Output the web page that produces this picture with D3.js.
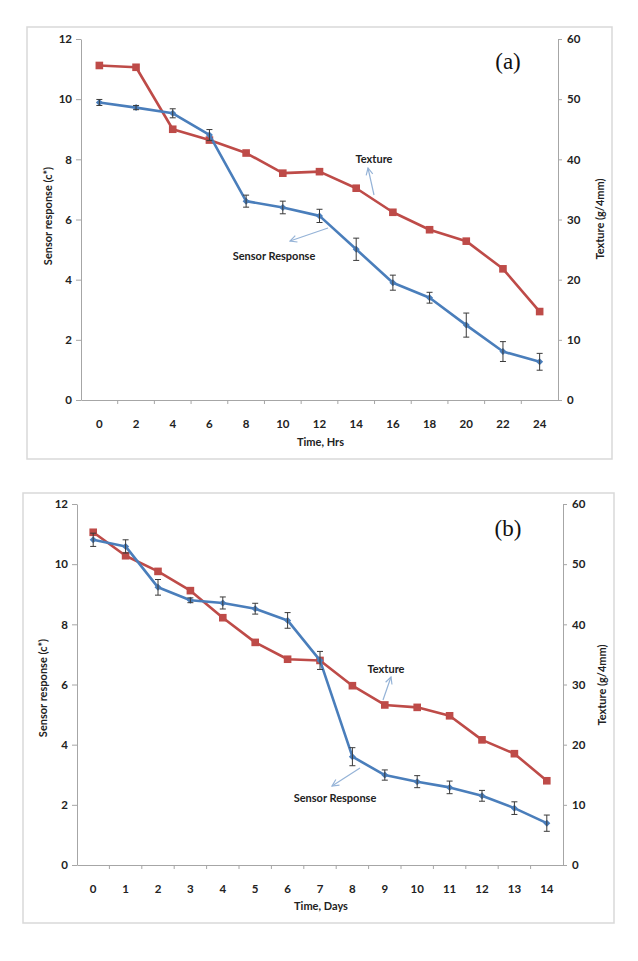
<!DOCTYPE html>
<html>
<head>
<meta charset="utf-8">
<script src="https://cdn.jsdelivr.net/npm/d3@7/dist/d3.min.js"></script>
<style>
  html, body { margin: 0; padding: 0; background: #fff; }
  text { font-family: Lato, "Open Sans", "Liberation Sans", sans-serif; }
  text.tag { font-family: "Liberation Serif", "DejaVu Serif", serif; font-weight: normal; }
</style>
</head>
<body>
<svg id="chart" width="638" height="961"></svg>
<script>
// ---------- Data ----------
// Panel (a): time in hours
const hoursA = ["0","2","4","6","8","10","12","14","16","18","20","22","24"];
const sensorA = [9.89, 9.72, 9.53, 8.81, 6.61, 6.40, 6.12, 5.01, 3.90, 3.40, 2.49, 1.61, 1.27];
const sensorErrA = [0.10, 0.07, 0.15, 0.18, 0.20, 0.21, 0.22, 0.37, 0.25, 0.18, 0.40, 0.33, 0.28];
const textureA = [55.6, 55.3, 45.0, 43.2, 41.05, 37.7, 37.95, 35.2, 31.2, 28.3, 26.4, 21.8, 14.7];

// Panel (b): time in days
const daysB = ["0","1","2","3","4","5","6","7","8","9","10","11","12","13","14"];
const sensorB = [10.81, 10.59, 9.23, 8.80, 8.71, 8.52, 8.13, 6.80, 3.60, 2.99, 2.77, 2.58, 2.30, 1.89, 1.39];
const sensorErrB = [0.22, 0.22, 0.26, 0.08, 0.20, 0.18, 0.26, 0.30, 0.30, 0.17, 0.20, 0.21, 0.18, 0.21, 0.27];
const textureB = [55.3, 51.4, 48.8, 45.6, 41.1, 37.0, 34.2, 34.0, 29.8, 26.6, 26.2, 24.8, 20.8, 18.5, 14.0];

const leftTicks = [0, 2, 4, 6, 8, 10, 12];
const rightTicks = [0, 10, 20, 30, 40, 50, 60];

// ---------- Layout ----------
const panels = [
  { cats: hoursA, sensor: sensorA, err: sensorErrA, texture: textureA,
    frame: [27, 27, 612, 459], plot: { x0: 81, x1: 558, yTop: 39, yBot: 400 },
    xTitle: "Time, Hrs", tag: "(a)", tagPos: [508, 69],
    leftTitlePos: [47, 216], rightTitlePos: [599, 219], xTitleY: 446, xLabelY: 424,
    texLbl: [374, 163], texArrow: [[374, 195], [368, 168]],
    senLbl: [274, 260], senArrow: [[328, 228], [290, 241]] },
  { cats: daysB, sensor: sensorB, err: sensorErrB, texture: textureB,
    frame: [23, 493, 614, 923], plot: { x0: 77, x1: 563, yTop: 504, yBot: 865 },
    xTitle: "Time, Days", tag: "(b)", tagPos: [508, 536],
    leftTitlePos: [42, 688], rightTitlePos: [601, 685], xTitleY: 910, xLabelY: 889,
    texLbl: [386, 673], texArrow: [[383, 700], [391, 677]],
    senLbl: [335, 802], senArrow: [[360, 768], [332, 786]] }
];

const BLUE = "#4a7ebb", RED = "#be4b48", AXIS = "#a6a6a6", FRAME = "#d9d9d9", ANNO = "#95b3d7";

const svg = d3.select("#chart");
svg.append("rect").attr("width", 638).attr("height", 961).attr("fill", "#fff");

const defs = svg.append("defs");
defs.append("marker").attr("id", "arr").attr("viewBox", "0 0 10 10")
  .attr("refX", 9).attr("refY", 5).attr("markerWidth", 7).attr("markerHeight", 7)
  .attr("orient", "auto")
  .append("path").attr("d", "M1,1 L9,5 L1,9").attr("fill", "none")
  .attr("stroke", ANNO).attr("stroke-width", 1.4);

panels.forEach(p => {
  const g = svg.append("g");
  const [fx0, fy0, fx1, fy1] = p.frame;
  g.append("rect").attr("x", fx0).attr("y", fy0).attr("width", fx1 - fx0).attr("height", fy1 - fy0)
    .attr("fill", "#fff").attr("stroke", FRAME).attr("stroke-width", 1.5);

  const x = d3.scaleBand().domain(p.cats).range([p.plot.x0, p.plot.x1]);
  const yL = d3.scaleLinear().domain([0, 12]).range([p.plot.yBot, p.plot.yTop]);
  const yR = d3.scaleLinear().domain([0, 60]).range([p.plot.yBot, p.plot.yTop]);
  const cx = c => x(c) + x.bandwidth() / 2;

  // Left axis
  const la = g.append("g").attr("transform", `translate(${p.plot.x0},0)`)
    .call(d3.axisLeft(yL).tickValues(leftTicks).tickSize(5).tickSizeOuter(0).tickPadding(4));
  // Right axis
  const ra = g.append("g").attr("transform", `translate(${p.plot.x1},0)`)
    .call(d3.axisRight(yR).tickValues(rightTicks).tickSize(4).tickSizeOuter(0).tickPadding(5));
  // Bottom axis (labels centered in bands)
  const ba = g.append("g").attr("transform", `translate(0,${p.plot.yBot})`)
    .call(d3.axisBottom(x).tickSize(0).tickSizeOuter(0).tickPadding(p.xLabelY - p.plot.yBot - 4));
  ba.selectAll(".tick line").remove();
  // band boundary ticks
  const bounds = p.cats.slice(1).map(c => x(c));
  g.append("g").selectAll("line").data(bounds).join("line")
    .attr("x1", d => d).attr("x2", d => d)
    .attr("y1", p.plot.yBot).attr("y2", p.plot.yBot + 4)
    .attr("stroke", AXIS).attr("stroke-width", 1);

  [la, ra, ba].forEach(a => {
    a.select(".domain").attr("stroke", AXIS).attr("stroke-width", 1);
    a.selectAll(".tick line").attr("stroke", AXIS);
    a.selectAll("text").style("font-family", "Lato, 'Open Sans', sans-serif")
      .attr("font-weight", "bold").attr("font-size", 11.5).attr("fill", "#222");
  });

  // Axis titles
  g.append("text").attr("transform", `translate(${p.leftTitlePos[0]},${p.leftTitlePos[1]}) rotate(-90)`)
    .attr("text-anchor", "middle").attr("dominant-baseline", "central")
    .attr("font-weight", "bold").attr("font-size", 11).attr("fill", "#222")
    .text("Sensor response (c*)");
  g.append("text").attr("transform", `translate(${p.rightTitlePos[0]},${p.rightTitlePos[1]}) rotate(-90)`)
    .attr("text-anchor", "middle").attr("dominant-baseline", "central")
    .attr("font-weight", "bold").attr("font-size", 11).attr("fill", "#222")
    .text("Texture (g/4mm)");
  g.append("text").attr("x", (p.plot.x0 + p.plot.x1) / 2 + 1).attr("y", p.xTitleY)
    .attr("text-anchor", "middle")
    .attr("font-weight", "bold").attr("font-size", 11).attr("fill", "#222")
    .text(p.xTitle);

  // Panel tag
  g.append("text").attr("class", "tag").attr("x", p.tagPos[0]).attr("y", p.tagPos[1])
    .attr("text-anchor", "middle")
    .attr("font-size", 23).attr("fill", "#111").text(p.tag);

  // Texture line (right axis)
  const texData = p.cats.map((c, i) => ({ c, v: p.texture[i] }));
  g.append("path").datum(texData)
    .attr("fill", "none").attr("stroke", RED).attr("stroke-width", 2.6).attr("stroke-linejoin", "round")
    .attr("d", d3.line().x(d => cx(d.c)).y(d => yR(d.v)));
  g.append("g").selectAll("rect").data(texData).join("rect")
    .attr("x", d => cx(d.c) - 3.8).attr("y", d => yR(d.v) - 3.8)
    .attr("width", 7.6).attr("height", 7.6).attr("fill", RED);

  // Sensor line (left axis)
  const senData = p.cats.map((c, i) => ({ c, v: p.sensor[i], e: p.err[i] }));
  g.append("path").datum(senData)
    .attr("fill", "none").attr("stroke", BLUE).attr("stroke-width", 2.6).attr("stroke-linejoin", "round")
    .attr("d", d3.line().x(d => cx(d.c)).y(d => yL(d.v)));
  // markers (small diamonds)
  g.append("g").selectAll("path").data(senData).join("path")
    .attr("d", d => { const X = cx(d.c), Y = yL(d.v); return `M${X},${Y-3.5}L${X+3.5},${Y}L${X},${Y+3.5}L${X-3.5},${Y}Z`; })
    .attr("fill", BLUE);
  // error bars
  const eb = g.append("g").attr("stroke", "#3a3a3a").attr("stroke-width", 1);
  eb.selectAll("line.v").data(senData).join("line").attr("class", "v")
    .attr("x1", d => cx(d.c)).attr("x2", d => cx(d.c))
    .attr("y1", d => yL(d.v + d.e)).attr("y2", d => yL(d.v - d.e));
  eb.selectAll("line.t").data(senData).join("line").attr("class", "t")
    .attr("x1", d => cx(d.c) - 3).attr("x2", d => cx(d.c) + 3)
    .attr("y1", d => yL(d.v + d.e)).attr("y2", d => yL(d.v + d.e));
  eb.selectAll("line.b").data(senData).join("line").attr("class", "b")
    .attr("x1", d => cx(d.c) - 3).attr("x2", d => cx(d.c) + 3)
    .attr("y1", d => yL(d.v - d.e)).attr("y2", d => yL(d.v - d.e));

  // Annotations
  g.append("text").attr("x", p.texLbl[0]).attr("y", p.texLbl[1]).attr("text-anchor", "middle")
    .attr("font-weight", "bold").attr("font-size", 11).attr("fill", "#222").text("Texture");
  g.append("line").attr("x1", p.texArrow[0][0]).attr("y1", p.texArrow[0][1])
    .attr("x2", p.texArrow[1][0]).attr("y2", p.texArrow[1][1])
    .attr("stroke", ANNO).attr("stroke-width", 1.2).attr("marker-end", "url(#arr)");
  g.append("text").attr("x", p.senLbl[0]).attr("y", p.senLbl[1]).attr("text-anchor", "middle")
    .attr("font-weight", "bold").attr("font-size", 11).attr("fill", "#222").text("Sensor Response");
  g.append("line").attr("x1", p.senArrow[0][0]).attr("y1", p.senArrow[0][1])
    .attr("x2", p.senArrow[1][0]).attr("y2", p.senArrow[1][1])
    .attr("stroke", ANNO).attr("stroke-width", 1.2).attr("marker-end", "url(#arr)");
});
</script>
</body>
</html>
